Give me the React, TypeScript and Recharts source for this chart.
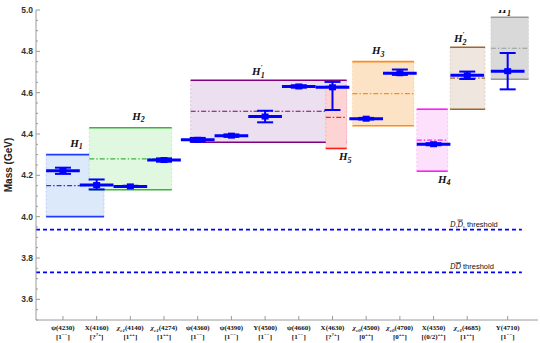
import React from "react";
import {
  ComposedChart,
  XAxis,
  YAxis,
  Scatter,
  ErrorBar,
  ReferenceArea,
  ReferenceLine,
} from "recharts";

// states on the x axis
const symbols = ["ψ", "X", "χ", "χ", "ψ", "ψ", "Y", "ψ", "X", "χ", "χ", "X", "χ", "Y"];
const subs = ["", "", "c1", "c1", "", "", "", "", "", "c0", "c0", "", "c1", ""];
const masses = ["4230", "4160", "4140", "4274", "4360", "4390", "4500", "4660", "4630", "4500", "4700", "4350", "4685", "4710"];
const spins = ["1", "?", "1", "1", "1", "1", "1", "1", "?", "0", "0", "(0/2)", "1", "1"];
const parities = ["−−", "?+", "++", "++", "−−", "−−", "−−", "−−", "?+", "++", "++", "++", "++", "−−"];
const xPos = [1, 2, 3, 4, 5, 6, 7, 8, 9, 10, 11, 12, 13, 14.2];

// measured masses (GeV)
const massVal = [4.222, 4.153, 4.1465, 4.274, 4.372, 4.392, 4.4845, 4.63, 4.626, 4.474, 4.694, 4.3506, 4.684, 4.704];
const errLo = [0.015, 0.021, 0.003, 0.008, 0.009, 0.006, 0.028, 0.006, 0.11, 0.004, 0.008, 0.005, 0.018, 0.088];
const errHi = [0.015, 0.027, 0.003, 0.008, 0.009, 0.006, 0.028, 0.006, 0.026, 0.004, 0.018, 0.005, 0.018, 0.088];

// predicted bands
const bandFrom = [0.5, 1.78, 4.79, 8.8, 9.59, 11.5, 12.49, 13.7];
const bandTo = [2.22, 4.23, 9.42, 9.42, 11.42, 12.42, 13.53, 14.82];
const bandLow = [4.0, 4.13, 4.36, 4.33, 4.44, 4.22, 4.52, 4.665];
const bandHigh = [4.3, 4.43, 4.66, 4.63, 4.75, 4.52, 4.82, 4.965];
const bandStroke = ["#1f3cff", "#3cb43c", "#800080", "#ff1a1a", "#ff8c1a", "#ff1aff", "#a0662d", "#9a9a9a"];
const bandFill = ["#dce9fa", "#e0f8df", "#ecdfef", "#fdd3d3", "#fde3c6", "#fde0fc", "#efe6df", "#d9d9d9"];

// band labels
const labelSub = ["1", "2", "1", "5", "3", "4", "2", "1"];
const labelSup = ["", "", "′", "", "", "", "′", "″"];
const labelX = [1.4, 3.24, 6.8, 9.38, 10.36, 12.32, 12.79, 14.11];
const labelY = [4.339, 4.468, 4.685, 4.274, 4.787, 4.163, 4.845, 4.985];

const dsThreshold = 3.937;
const ddThreshold = 3.73;
const threshX = 12.49;

const yMajor = [3.6, 3.8, 4.0, 4.2, 4.4, 4.6, 4.8, 5.0];
const yTicks = Array.from({ length: 31 }, (_, i) => Math.round((3.5 + i * 0.05) * 100) / 100);

const BLUE = "#0000ff";
const AXIS = "#9a9a9a";

const points = xPos.map((x, i) => ({
  x,
  y: massVal[i],
  ex: 0.5,
  ey: [errLo[i], errHi[i]],
}));

const labels = labelX.map((x, i) => ({ x, y: labelY[i], sub: labelSub[i], sup: labelSup[i] }));
const threshLabels = [
  { x: threshX, y: dsThreshold, kind: "ds" },
  { x: threshX, y: ddThreshold, kind: "dd" },
];

const makeBand = (stroke: string, fill: string) => (props: any) => {
  const { x, y, width, height } = props;
  const mid = y + height / 2;
  return (
    <g>
      <rect x={x} y={y} width={width} height={height} fill={fill} />
      <line x1={x} x2={x} y1={y} y2={y + height} stroke={stroke} strokeOpacity={0.2} strokeDasharray="2 2" />
      <line x1={x + width} x2={x + width} y1={y} y2={y + height} stroke={stroke} strokeOpacity={0.2} strokeDasharray="2 2" />
      <line x1={x} x2={x + width} y1={y} y2={y} stroke={stroke} strokeWidth={1.6} />
      <line x1={x} x2={x + width} y1={y + height} y2={y + height} stroke={stroke} strokeWidth={1.6} />
      <line x1={x} x2={x + width} y1={mid} y2={mid} stroke={stroke} strokeWidth={1.2} strokeDasharray="5 2 1.5 2" />
    </g>
  );
};

const XTick = (props: any) => {
  const { x, y, payload } = props;
  const i = xPos.indexOf(payload.value);
  if (i < 0) return null;
  return (
    <g>
      <line x1={x} x2={x} y1={y} y2={y - 4} stroke={AXIS} />
      <text x={x} y={y + 10} textAnchor="middle" fontFamily="Liberation Serif" fontWeight="bold" fontSize={7} fill="#111">
        <tspan fontStyle={subs[i] ? "italic" : "normal"}>{symbols[i]}</tspan>
        {subs[i] ? (
          <tspan fontSize={5} dy={1.5} fontStyle="italic">
            {subs[i]}
          </tspan>
        ) : null}
        <tspan dy={subs[i] ? -1.5 : 0}>({masses[i]})</tspan>
      </text>
      <text x={x} y={y + 19} textAnchor="middle" fontFamily="Liberation Serif" fontWeight="bold" fontSize={7} fill="#111">
        [{spins[i]}
        <tspan fontSize={5} dy={-3}>
          {parities[i]}
        </tspan>
        <tspan dy={3}>]</tspan>
      </text>
    </g>
  );
};

const YTick = (props: any) => {
  const { x, y, payload } = props;
  const v = payload.value;
  const major = yMajor.some((m) => Math.abs(m - v) < 1e-6);
  return (
    <g>
      <line x1={x} x2={x + (major ? 4 : 2)} y1={y} y2={y} stroke={AXIS} />
      {major ? (
        <text x={x - 3} y={y + 3} textAnchor="end" fontFamily="Liberation Sans" fontWeight="bold" fontSize={8.5} fill="#333">
          {v.toFixed(1)}
        </text>
      ) : null}
    </g>
  );
};

const LabelShape = (props: any) => {
  const { cx, cy, payload } = props;
  return (
    <text x={cx} y={cy} textAnchor="middle" fontFamily="Liberation Serif" fontStyle="italic" fontWeight="bold" fontSize={11} fill="#111">
      H
      <tspan fontSize={8} dy={2.5}>
        {payload.sub}
      </tspan>
      {payload.sup ? (
        <tspan fontSize={7} dx={-4} dy={-9}>
          {payload.sup}
        </tspan>
      ) : null}
    </text>
  );
};

const ThreshShape = (props: any) => {
  const { cx, cy, payload } = props;
  const d = (
    <tspan fontFamily="Liberation Serif" fontStyle="italic">
      D
    </tspan>
  );
  return (
    <text x={cx} y={cy - 3} fontFamily="Liberation Sans" fontSize={7.5} fill="#111">
      {payload.kind === "ds" ? (
        <>
          {d}
          <tspan fontFamily="Liberation Serif" fontStyle="italic" fontSize={5} dy={1.5}>
            s
          </tspan>
          <tspan fontFamily="Liberation Serif" fontStyle="italic" dy={-1.5} textDecoration="overline">
            D
          </tspan>
          <tspan fontFamily="Liberation Serif" fontStyle="italic" fontSize={5} dy={1.5}>
            s
          </tspan>
          <tspan dy={-1.5}> threshold</tspan>
        </>
      ) : (
        <>
          {d}
          <tspan fontFamily="Liberation Serif" fontStyle="italic" textDecoration="overline">
            D
          </tspan>
          <tspan> threshold</tspan>
        </>
      )}
    </text>
  );
};

const MarkerShape = (props: any) => {
  const { cx, cy } = props;
  return <rect x={cx - 3.5} y={cy - 3} width={7} height={6} fill={BLUE} />;
};

export default function App() {
  return (
    <div style={{ position: "absolute", left: 0, top: 0, background: "#fff" }}>
      <ComposedChart width={540} height={343} margin={{ top: 10, right: 2, bottom: 0, left: 0 }}>
        <XAxis
          type="number"
          dataKey="x"
          domain={[0.2, 15.1]}
          ticks={xPos}
          interval={0}
          tick={<XTick />}
          tickLine={false}
          tickSize={0}
          tickMargin={0}
          height={23}
          axisLine={{ stroke: AXIS }}
          allowDataOverflow
        />
        <YAxis
          type="number"
          dataKey="y"
          domain={[3.5, 5.0]}
          ticks={yTicks}
          interval={0}
          tick={<YTick />}
          tickLine={false}
          tickSize={0}
          tickMargin={0}
          width={36}
          axisLine={{ stroke: AXIS }}
          allowDataOverflow
          label={{
            content: (p: any) => {
              const vb = p.viewBox || { x: 0, y: 10, height: 310 };
              const cy = vb.y + vb.height / 2;
              return (
                <text
                  x={12}
                  y={cy}
                  transform={`rotate(-90, 12, ${cy})`}
                  textAnchor="middle"
                  fontFamily="Liberation Sans"
                  fontWeight="bold"
                  fontSize={10}
                  fill="#222"
                >
                  Mass (GeV)
                </text>
              );
            },
          }}
        />
        {bandFrom.map((x1, i) => (
          <ReferenceArea
            key={`band-${i}`}
            x1={x1}
            x2={bandTo[i]}
            y1={bandLow[i]}
            y2={bandHigh[i]}
            shape={makeBand(bandStroke[i], bandFill[i])}
            ifOverflow="visible"
          />
        ))}
        <ReferenceLine
          segment={[
            { x: 0.2, y: dsThreshold },
            { x: 14.62, y: dsThreshold },
          ]}
          stroke={BLUE}
          strokeWidth={1.8}
          strokeDasharray="4 3"
        />
        <ReferenceLine
          segment={[
            { x: 0.2, y: ddThreshold },
            { x: 14.62, y: ddThreshold },
          ]}
          stroke={BLUE}
          strokeWidth={1.8}
          strokeDasharray="4 3"
        />
        <Scatter data={points} shape={<MarkerShape />} isAnimationActive={false}>
          <ErrorBar dataKey="ex" direction="x" width={0} stroke={BLUE} strokeWidth={3} />
          <ErrorBar dataKey="ey" direction="y" width={8} stroke={BLUE} strokeWidth={2} />
        </Scatter>
        <Scatter data={labels} shape={<LabelShape />} isAnimationActive={false} />
        <Scatter data={threshLabels} shape={<ThreshShape />} isAnimationActive={false} />
      </ComposedChart>
    </div>
  );
}
